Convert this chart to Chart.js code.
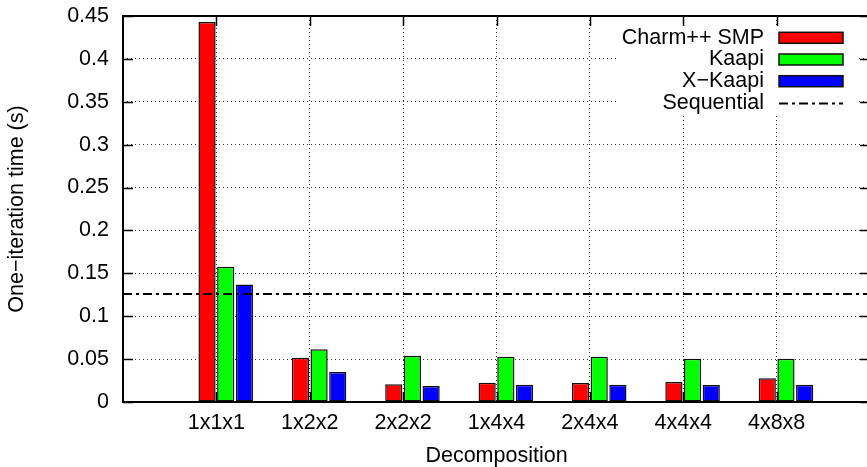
<!DOCTYPE html>
<html>
<head>
<meta charset="utf-8">
<script src="https://cdn.jsdelivr.net/npm/chart.js@4.4.0/dist/chart.umd.min.js"></script>
<style>
  html, body { margin: 0; padding: 0; overflow: hidden; background: #fff; }
  #wrap { width: 875px; height: 467px; }
</style>
</head>
<body>
<div id="wrap"><canvas id="chart"></canvas></div>
<script>
const categories = ['1x1x1', '1x2x2', '2x2x2', '1x4x4', '2x4x4', '4x4x4', '4x8x8'];
const charmSmp = [0.443, 0.0516, 0.0206, 0.0225, 0.0221, 0.0233, 0.0276];
const kaapi = [0.1577, 0.0614, 0.054, 0.0528, 0.0528, 0.0505, 0.0505];
const xKaapi = [0.137, 0.035, 0.0187, 0.0202, 0.0202, 0.0198, 0.0202];
const sequential = 0.126;
const seriesNames = ['Charm++ SMP', 'Kaapi', 'X−Kaapi', 'Sequential'];
const yTicks = [0, 0.05, 0.1, 0.15, 0.2, 0.25, 0.3, 0.35, 0.4, 0.45];
const yTickLabels = ['0', '0.05', '0.1', '0.15', '0.2', '0.25', '0.3', '0.35', '0.4', '0.45'];
const xRange = [0, 8];

const font = { family: "'Liberation Sans', Arial, sans-serif", size: 21.5 };
const seqDash = [9, 4, 3, 4];
const gridDash = [1, 3];
const clusterShift = 0.1; // gnuplot puts the tick at the left side of the cluster
const barRange = [xRange[0] - clusterShift, xRange[1] - clusterShift];

const toPoints = vals => vals.map((v, i) => ({ x: i + 1, y: v }));
const catTicks = s => { s.ticks = categories.map((c, i) => ({ value: i + 1 })); };

const barStyle = { borderColor: '#111', borderWidth: 1.5, borderSkipped: false,
    categoryPercentage: 0.6, barPercentage: 0.92, xAxisID: 'x', order: 1 };

// tick marks, border and gnuplot-style key
const frame = {
    id: 'frame',
    afterDatasetsDraw(chart) {
        const { ctx, chartArea: a, scales } = chart;
        ctx.save();
        ctx.strokeStyle = '#000';
        ctx.lineWidth = 1.5;
        ctx.beginPath();
        scales.y.ticks.forEach(t => {
            const y = Math.round(scales.y.getPixelForValue(t.value)) + 0.5;
            ctx.moveTo(a.left, y); ctx.lineTo(a.left + 10, y);
            ctx.moveTo(a.right - 10, y); ctx.lineTo(a.right, y);
        });
        scales.xt.ticks.forEach(t => {
            const x = Math.round(scales.xt.getPixelForValue(t.value)) + 0.5;
            ctx.moveTo(x, a.bottom); ctx.lineTo(x, a.bottom - 10);
            ctx.moveTo(x, a.top); ctx.lineTo(x, a.top + 10);
        });
        ctx.stroke();
        ctx.lineWidth = 2;
        ctx.strokeRect(a.left, a.top, a.right - a.left, a.bottom - a.top);

        // key
        const textRight = a.right - 106;
        const sx0 = a.right - 91, sx1 = a.right - 27;
        const rowY = i => a.top + 21.8 + i * 21.7;
        const n = chart.data.datasets.length;
        ctx.fillStyle = '#fff';
        ctx.fillRect(textRight - 146, rowY(0) - 11, sx1 - textRight + 160, n * 21.7 + 1);
        ctx.font = `${font.size}px ${font.family}`;
        ctx.textAlign = 'right';
        ctx.textBaseline = 'middle';
        chart.data.datasets.forEach((ds, i) => {
            const y = rowY(i);
            ctx.fillStyle = '#000';
            ctx.fillText(ds.label, textRight, y);
            if (ds.type === 'line') {
                ctx.setLineDash(ds.borderDash);
                ctx.lineWidth = ds.borderWidth;
                ctx.strokeStyle = ds.borderColor;
                ctx.beginPath();
                ctx.moveTo(sx0, Math.round(y) + 0.5);
                ctx.lineTo(sx1, Math.round(y) + 0.5);
                ctx.stroke();
                ctx.setLineDash([]);
            } else {
                ctx.fillStyle = ds.backgroundColor;
                ctx.fillRect(sx0, y - 5.5, sx1 - sx0, 11);
                ctx.lineWidth = 1.5;
                ctx.strokeStyle = ds.borderColor;
                ctx.strokeRect(sx0, y - 5.5, sx1 - sx0, 11);
            }
        });
        ctx.restore();
    }
};

new Chart(document.getElementById('chart'), {
    type: 'bar',
    data: {
        datasets: [
            { ...barStyle, label: seriesNames[0], data: toPoints(charmSmp), backgroundColor: '#ff0000' },
            { ...barStyle, label: seriesNames[1], data: toPoints(kaapi), backgroundColor: '#00ff00' },
            { ...barStyle, label: seriesNames[2], data: toPoints(xKaapi), backgroundColor: '#0000ff' },
            {
                // same index axis as the bars, so bar grouping is not split
                type: 'line', label: seriesNames[3], xAxisID: 'x', order: 0,
                data: [{ x: barRange[0], y: sequential }, { x: barRange[1], y: sequential }],
                borderColor: '#000', borderWidth: 2, borderDash: seqDash,
                pointRadius: 0, fill: false
            }
        ]
    },
    options: {
        responsive: true,
        maintainAspectRatio: false,
        animation: false,
        layout: { padding: { top: 16, right: 5, left: 0, bottom: 0 } },
        plugins: { legend: { display: false }, tooltip: { enabled: false } },
        scales: {
            x: {
                type: 'linear', display: false, offset: false,
                min: barRange[0], max: barRange[1],
                ticks: { stepSize: 1, includeBounds: false },
                afterBuildTicks: catTicks,
                grid: { offset: false }
            },
            xt: {
                type: 'linear', axis: 'x', position: 'bottom', offset: false,
                min: xRange[0], max: xRange[1],
                afterBuildTicks: catTicks,
                afterFit: s => { s.height = 65; s.paddingLeft = 0; s.paddingRight = 0; },
                ticks: { callback: (v, i) => categories[i], padding: 8, maxRotation: 0, autoSkip: false, font, color: '#000' },
                grid: { color: '#333', lineWidth: 1, drawTicks: false, offset: false },
                border: { display: false, dash: gridDash },
                title: { display: true, text: 'Decomposition', color: '#000',
                    font: { ...font, lineHeight: 1 }, padding: { top: 0, bottom: 0 } }
            },
            y: {
                min: 0, max: 0.45,
                afterBuildTicks: s => { s.ticks = yTicks.map(v => ({ value: v })); },
                afterFit: s => { s.width = 123; s.paddingTop = 0; s.paddingBottom = 0; },
                ticks: { callback: (v, i) => yTickLabels[i], padding: 14, font, color: '#000' },
                grid: { color: '#333', lineWidth: 1, drawTicks: false },
                border: { display: false, dash: gridDash },
                title: { display: true, text: 'One−iteration time (s)', color: '#000',
                    font, padding: { top: 4, bottom: 0 } }
            }
        }
    },
    plugins: [frame]
});
</script>
</body>
</html>
